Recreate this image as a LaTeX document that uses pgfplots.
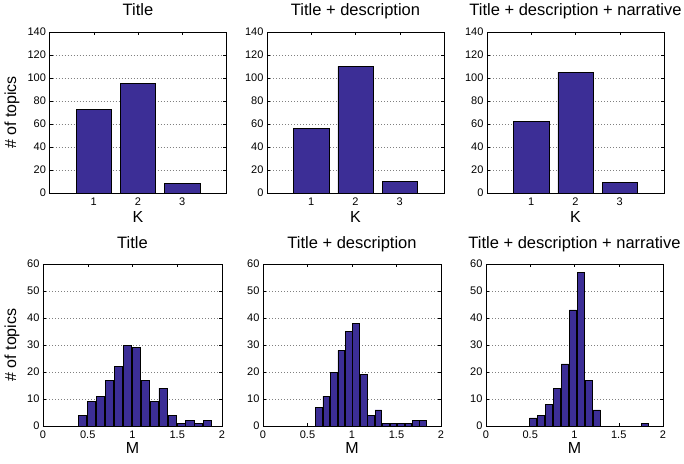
\documentclass[border=0pt]{standalone}
\usepackage{fontspec}
\setmainfont{Liberation Sans}
\usepackage{pgfplots}
\pgfplotsset{compat=1.18}
\definecolor{barblue}{RGB}{60,46,150}
\pgfplotsset{
  every axis/.append style={
    scale only axis, anchor=south west,
    font=\fontsize{11}{12}\selectfont,
    /pgf/number format/assume math mode=true,
    tick align=inside, major tick length=3pt,
    axis line style={line width=0.9pt},
    every tick/.style={black, line width=0.5pt},
    ymajorgrids, grid style={dash pattern=on 0.7pt off 2.3pt, black!50, line width=0.6pt},
    title style={font=\fontsize{16.5}{18}\selectfont, at={(axis description cs:0.5,1)}, anchor=base, yshift=10pt},
    label style={font=\fontsize{16}{18}\selectfont},
    xticklabel style={yshift=-1pt},
  },
  kax/.style={width=177pt, height=161pt, xmin=0, xmax=4, ymin=0, ymax=140,
    xtick={1,2,3}, ytick={0,20,...,140}, xlabel={K},
    xlabel style={at={(axis description cs:0.5,0)}, anchor=base, yshift=-30pt}},
  max/.style={height=162pt, xmin=0, xmax=2, ymin=0, ymax=60,
    xtick={0,0.5,1,1.5,2}, ytick={0,10,...,60}, xlabel={M},
    xticklabels={0,0.5,1,1.5,2},
    xlabel style={at={(axis description cs:0.5,0)}, anchor=base, yshift=-27pt}},
  bars/.style={ybar, fill=barblue, draw=black, line width=0.6pt},
}
\begin{document}
\begin{tikzpicture}
\path[use as bounding box] (0,0) rectangle (684pt,463pt);
% ---- top row: K
\begin{axis}[kax, at={(49.5pt,270pt)}, title={Title}, ylabel={\# of topics},
  ylabel style={at={(axis description cs:-0.212,0.5)}, anchor=center}]
\addplot[bars, bar width=0.8] coordinates {(1,73) (2,95) (3,8)};
\end{axis}
\begin{axis}[kax, at={(267pt,270pt)}, title={Title + description}]
\addplot[bars, bar width=0.8] coordinates {(1,56) (2,110) (3,10)};
\end{axis}
\begin{axis}[kax, at={(487pt,270pt)}, title={Title + description + narrative}]
\addplot[bars, bar width=0.8] coordinates {(1,62) (2,105) (3,9)};
\end{axis}
% ---- bottom row: M
\begin{axis}[max, width=179pt, at={(43pt,37pt)}, title={Title}, ylabel={\# of topics},
  ylabel style={at={(axis description cs:-0.173,0.5)}, anchor=center}]
\addplot[bars, bar width=0.09] coordinates {
(0.44,4) (0.54,9) (0.64,11) (0.74,17) (0.84,22) (0.94,30) (1.04,29) (1.14,17)
(1.24,9) (1.34,14) (1.44,4) (1.54,1) (1.64,2) (1.74,1) (1.84,2)};
\end{axis}
\begin{axis}[max, width=178pt, at={(263pt,37pt)}, title={Title + description}]
\addplot[bars, bar width=0.075] coordinates {
(0.627,7) (0.710,11) (0.794,20) (0.878,28) (0.962,35) (1.045,38) (1.129,19)
(1.213,4) (1.296,6) (1.380,1) (1.464,1) (1.548,1) (1.631,1) (1.715,2) (1.799,2)};
\end{axis}
\begin{axis}[max, width=177pt, at={(486pt,37pt)}, title={Title + description + narrative}]
\addplot[bars, bar width=0.081] coordinates {
(0.533,3) (0.623,4) (0.713,8) (0.803,14) (0.893,23) (0.983,43) (1.073,57)
(1.163,17) (1.253,6) (1.793,1)};
\end{axis}
\end{tikzpicture}
\end{document}
